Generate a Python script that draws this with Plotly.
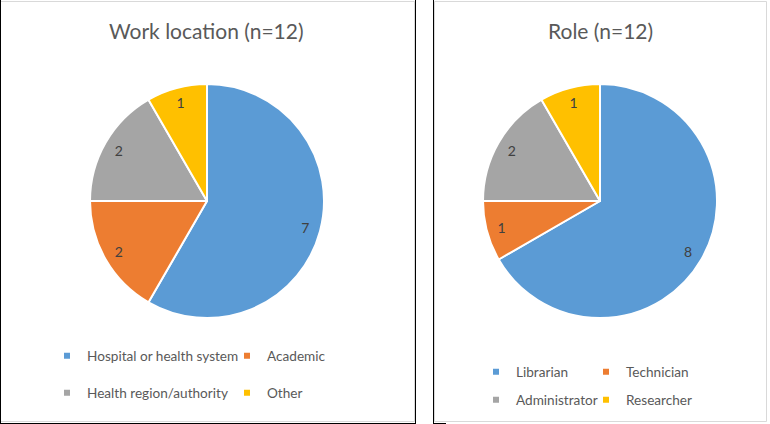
import plotly.graph_objects as go

# ---- data ----
work_labels = ["Hospital or health system", "Academic", "Health region/authority", "Other"]
work_values = [7, 2, 2, 1]
role_labels = ["Librarian", "Technician", "Administrator", "Researcher"]
role_values = [8, 1, 2, 1]
slice_colors = ["#5B9BD5", "#ED7D31", "#A5A5A5", "#FFC000"]
titles = ["Work location (n=12)", "Role (n=12)"]

W, H = 770, 424
FONT = "Lato"


def fx(p):
    return p / W


def fy(p):
    return 1 - p / H


panels = [
    dict(labels=work_labels, values=work_values, title=titles[0], cx=207, cy=201, r=117,
         rows=[("legend", 356), ("legend2", 393)], leg_x=47, entry=135),
    dict(labels=role_labels, values=role_values, title=titles[1], cx=600, cy=201, r=117,
         rows=[("legend3", 372), ("legend4", 400)], leg_x=476, entry=65),
]

fig = go.Figure()

for p in panels:
    dom = dict(x=[fx(p["cx"] - p["r"]), fx(p["cx"] + p["r"])],
               y=[fy(p["cy"] + p["r"]), fy(p["cy"] - p["r"])])
    # solid pie
    fig.add_trace(go.Pie(
        labels=p["labels"], values=p["values"], domain=dom, sort=False,
        direction="clockwise", rotation=0,
        marker=dict(colors=slice_colors, line=dict(color="white", width=2)),
        textinfo="none", showlegend=False, hoverinfo="label+value"))
    # transparent ring carrying the data labels near the rim
    fig.add_trace(go.Pie(
        labels=p["labels"], values=p["values"], domain=dom, sort=False,
        direction="clockwise", rotation=0, hole=0.74,
        marker=dict(colors=["rgba(0,0,0,0)"] * len(p["values"]), line=dict(width=0)),
        textinfo="value", textposition="inside", insidetextorientation="horizontal",
        textfont=dict(family=FONT, size=14, color="#404040"),
        showlegend=False, hoverinfo="skip"))

# legend entries (one legend per row)
for p in panels:
    for i, (lab, col) in enumerate(zip(p["labels"], slice_colors)):
        fig.add_trace(go.Scatter(
            x=[None], y=[None], mode="markers", name=lab,
            marker=dict(symbol="square", size=6, color=col),
            legend=p["rows"][i // 2][0], hoverinfo="skip"))

legends = {}
for p in panels:
    for name, y in p["rows"]:
        legends[name] = dict(
            orientation="h", x=fx(p["leg_x"]), xanchor="left", y=fy(y), yanchor="middle",
            entrywidth=p["entry"], entrywidthmode="pixels", itemwidth=30,
            font=dict(family=FONT, size=13.6, color="#595959"),
            bgcolor="rgba(0,0,0,0)", borderwidth=0)

shapes = []
# panel frames
for x0, x1 in [(0.5, 414.5), (434.5, 766.5)]:
    shapes.append(dict(type="rect", xref="paper", yref="paper",
                       x0=fx(x0), x1=fx(x1), y0=fy(421.5), y1=fy(1.5),
                       line=dict(color="#D9D9D9", width=1), fillcolor="rgba(0,0,0,0)"))
for xv in [0.5, 415.5, 433.5]:
    shapes.append(dict(type="line", xref="paper", yref="paper",
                       x0=fx(xv), x1=fx(xv), y0=fy(424), y1=fy(0),
                       line=dict(color="#000000", width=1)))
for a, b in [(0, 416), (433, 446)]:
    shapes.append(dict(type="line", xref="paper", yref="paper",
                       x0=fx(a), x1=fx(b), y0=fy(423.5), y1=fy(423.5),
                       line=dict(color="#000000", width=1)))

annotations = [
    dict(text=p["title"], x=fx(p["cx"]), y=fy(30), xref="paper", yref="paper",
         xanchor="center", yanchor="middle", showarrow=False,
         font=dict(family=FONT, size=21, color="#595959"))
    for p in panels
]

fig.update_layout(
    width=W, height=H, margin=dict(l=0, r=0, t=0, b=0),
    paper_bgcolor="white", plot_bgcolor="white",
    xaxis=dict(visible=False), yaxis=dict(visible=False),
    showlegend=True, shapes=shapes, annotations=annotations,
    **legends)

fig.write_html("out.html")
